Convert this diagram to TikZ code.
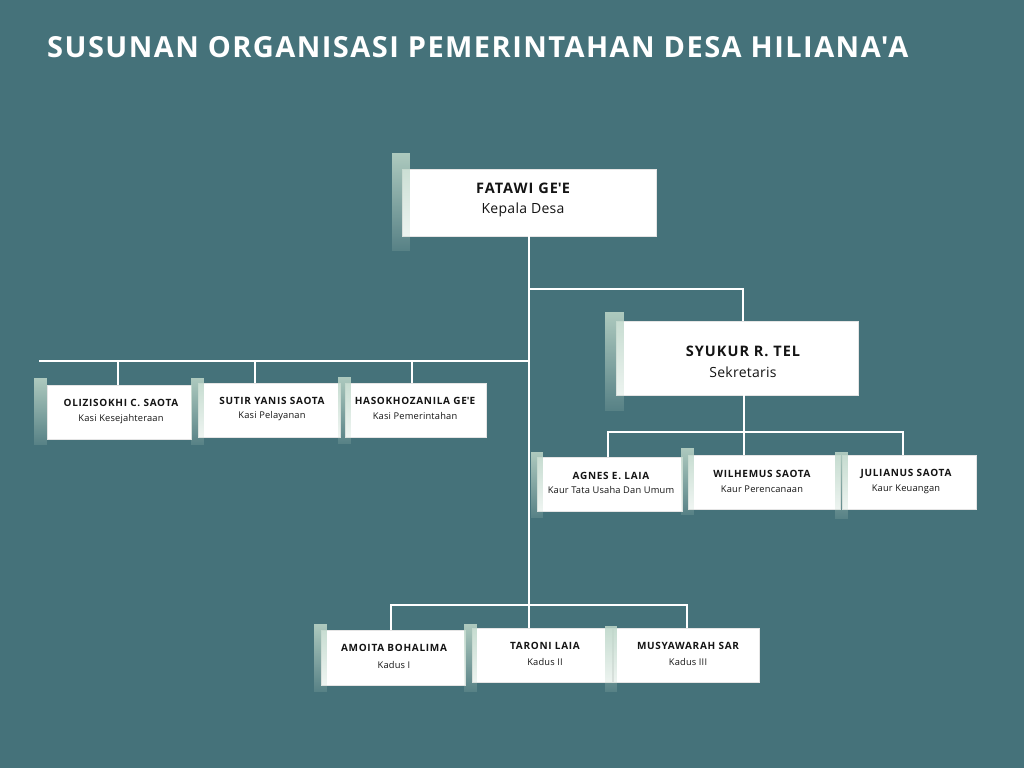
\documentclass[tikz,border=0pt]{standalone}
\usepackage{fontspec}
\setmainfont{Open Sans}
\newfontfamily\titlefont[LetterSpace=5]{Open Sans}
\newfontfamily\namefont[LetterSpace=7]{Open Sans}
\newfontfamily\rolefont[LetterSpace=2]{Open Sans}
\usetikzlibrary{fadings}
\tikzfading[name=barfade, top color=transparent!12, bottom color=transparent!85]
\definecolor{bg}{RGB}{69,114,122}
\definecolor{sage}{RGB}{188,214,200}
\definecolor{ink}{RGB}{20,20,20}
\newcommand\mkcard[9]{%
  \node[card, minimum width={#4-#2}, minimum height={#5-#3}] (#1) at (#2,#3) {};
  \fill[bar] (#6,#7) rectangle (#8,#9);
}
\newcommand\apos{\textquotesingle}
\begin{document}
\begin{tikzpicture}[x=1pt,y=-1pt,
  conn/.style={draw=white, line width=2.6pt},
  card/.style={fill=white, inner sep=0pt, outer sep=0pt, anchor=north west, draw=black!10, line width=0.3pt},
  bar/.style={fill=sage, path fading=barfade},
  bigname/.style={font=\namefont\bfseries\fontsize{14.5}{17}\selectfont, text=ink, inner sep=0pt},
  bigrole/.style={font=\rolefont\fontsize{14}{16}\selectfont, text=ink, inner sep=0pt},
  smallname/.style={font=\namefont\bfseries\fontsize{10}{12}\selectfont, text=ink, inner sep=0pt},
  smallrole/.style={font=\rolefont\fontsize{9.3}{11}\selectfont, text=ink, inner sep=0pt},
  titlestyle/.style={font=\titlefont\bfseries\fontsize{29}{34}\selectfont, text=white, inner sep=0pt, anchor=west}
]
\fill[bg] (0,0) rectangle (1024,768);
\useasboundingbox (0,0) rectangle (1024,768);

\node[titlestyle] (title) at (47,47) {SUSUNAN ORGANISASI PEMERINTAHAN DESA HILIANA\apos A};

% connector coordinates
\coordinate (trunkR) at (529,289);
\coordinate (secR) at (743,289);
\coordinate (trunkL) at (529,361);
\coordinate (leftEnd) at (39,361);
\coordinate (kaurL) at (608,432);
\coordinate (kaurM) at (744,432);
\coordinate (kaurR) at (903,432);
\coordinate (dusL) at (391,605);
\coordinate (dusM) at (529,605);
\coordinate (dusR) at (687,605);

% cards
\mkcard{fatawi}{402}{169}{656}{236}{392}{153}{410}{251}
\mkcard{syukur}{616}{321}{858}{395}{605}{312}{624}{411}

\mkcard{olizi}{47}{385}{191}{439}{34}{378}{47}{445}
\mkcard{sutir}{198}{383}{340}{437}{191}{378}{204}{445}
\mkcard{haso}{345}{383}{486}{437}{338}{377}{351}{444}

\mkcard{agnes}{537}{457}{682}{511}{531}{452}{543}{518}
\mkcard{wilhemus}{688}{455}{840}{509}{681}{448}{694}{515}
\mkcard{julianus}{842}{455}{976}{509}{835}{452}{848}{519}

\mkcard{amoita}{321}{630}{465}{685}{314}{624}{327}{692}
\mkcard{taroni}{472}{628}{612}{682}{464}{624}{477}{692}
\mkcard{musya}{613}{628}{759}{682}{605}{626}{617}{692}

% connectors
\draw[conn] (fatawi.south) -- (taroni.north -| fatawi.south);
\draw[conn] (trunkR) -- (secR) -- (syukur.north -| secR);
\draw[conn] (leftEnd) -- (trunkL);
\draw[conn] (leftEnd -| 118,0) -- (olizi.north -| 118,0);
\draw[conn] (leftEnd -| 255,0) -- (sutir.north -| 255,0);
\draw[conn] (leftEnd -| 412,0) -- (haso.north -| 412,0);
\draw[conn] (syukur.south -| kaurM) -- (kaurM);
\draw[conn] (agnes.north -| kaurL) -- (kaurL) -- (kaurR) -- (julianus.north -| kaurR);
\draw[conn] (kaurM) -- (wilhemus.north -| kaurM);
\draw[conn] (amoita.north -| dusL) -- (dusL) -- (dusR) -- (musya.north -| dusR);

% texts
\node[bigname] (fatawi-n) at (523,188) {FATAWI GE\apos E};
\node[bigrole] (fatawi-r) at (523,210) {Kepala Desa};
\node[bigname] (syukur-n) at (743,351) {SYUKUR R. TEL};
\node[bigrole] (syukur-r) at (743,372) {Sekretaris};

\node[smallname] (olizi-n) at (121,403) {OLIZISOKHI C. SAOTA};
\node[smallrole] (olizi-r) at (121,419) {Kasi Kesejahteraan};
\node[smallname] (sutir-n) at (272,401) {SUTIR YANIS SAOTA};
\node[smallrole] (sutir-r) at (272,416) {Kasi Pelayanan};
\node[smallname] (haso-n) at (415,401) {HASOKHOZANILA GE\apos E};
\node[smallrole] (haso-r) at (415,416) {Kasi Pemerintahan};

\node[smallname] (agnes-n) at (611,476) {AGNES E. LAIA};
\node[smallrole] (agnes-r) at (611,490) {Kaur Tata Usaha Dan Umum};
\node[smallname] (wilhemus-n) at (762,474) {WILHEMUS SAOTA};
\node[smallrole] (wilhemus-r) at (762,489) {Kaur Perencanaan};
\node[smallname] (julianus-n) at (906,474) {JULIANUS SAOTA};
\node[smallrole] (julianus-r) at (906,489) {Kaur Keuangan};

\node[smallname] (amoita-n) at (394,648) {AMOITA BOHALIMA};
\node[smallrole] (amoita-r) at (394,665) {Kadus I};
\node[smallname] (taroni-n) at (545,646) {TARONI LAIA};
\node[smallrole] (taroni-r) at (545,662) {Kadus II};
\node[smallname] (musya-n) at (688,646) {MUSYAWARAH SAR};
\node[smallrole] (musya-r) at (688,662) {Kadus III};
\end{tikzpicture}
\end{document}
